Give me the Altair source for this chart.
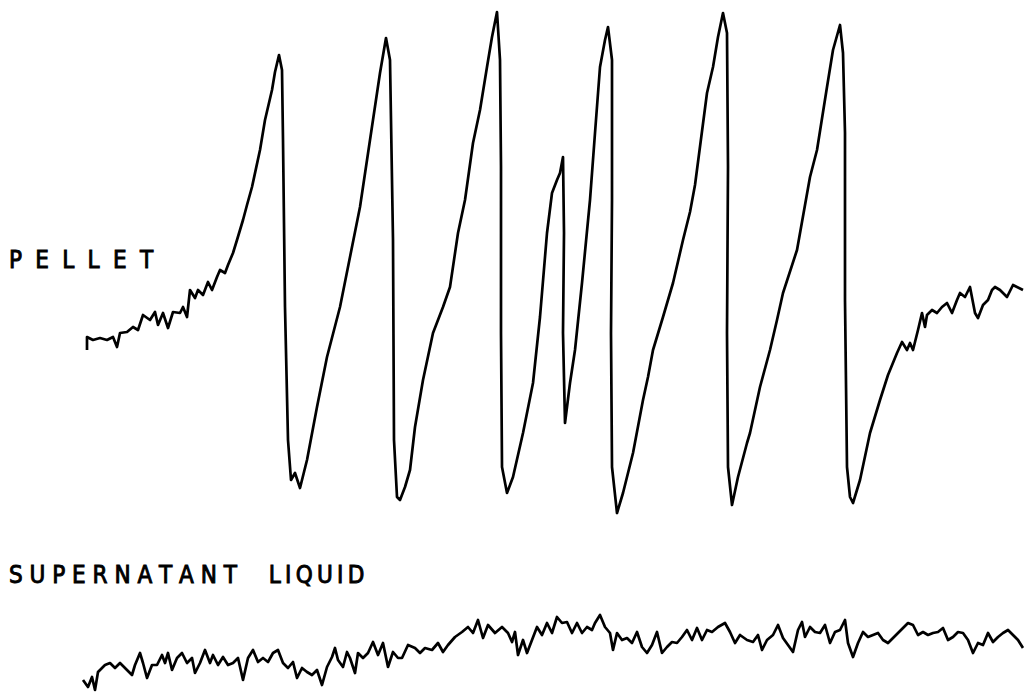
import altair as alt
import pandas as pd

# Pellet trace (horizontal position, vertical position measured downward)
pellet_x = [87, 87, 93, 100, 107, 113, 117, 120, 127, 133, 138, 143, 150, 155, 158, 163, 168, 173, 180, 183,
            187, 190, 195, 198, 203, 208, 212, 217, 220, 225, 228, 233, 237, 243, 247, 252, 260, 265, 272, 275,
            279, 282, 283, 285, 288, 291, 295, 300, 307, 317, 327, 340, 350, 360, 370, 380, 386, 390, 393, 394,
            397, 400, 405, 410, 415, 423, 433, 443, 450, 458, 465, 473, 480, 487, 492, 497, 500, 501, 501, 502,
            507, 513, 523, 533, 540, 547, 552, 557, 560, 563, 564, 563, 565, 570, 575, 582, 590, 595, 600, 605,
            608, 612, 612, 611, 612, 617, 623, 633, 643, 648, 653, 663, 673, 683, 690, 695, 707, 713, 718, 723,
            727, 728, 727, 728, 732, 738, 747, 750, 760, 770, 777, 783, 797, 810, 817, 827, 833, 840, 843, 845,
            845, 847, 850, 853, 860, 870, 880, 888, 897, 902, 907, 910, 913, 918, 922, 925, 927, 932, 937, 942,
            947, 952, 957, 960, 965, 970, 975, 978, 983, 988, 992, 995, 1000, 1007, 1013, 1023]
pellet_y = [350, 337, 340, 338, 340, 337, 347, 333, 332, 327, 330, 315, 320, 312, 325, 313, 328, 312, 313, 307,
            317, 290, 298, 290, 295, 282, 290, 277, 270, 273, 265, 253, 240, 220, 205, 187, 150, 120, 90, 72,
            55, 70, 140, 307, 440, 480, 473, 488, 460, 407, 357, 307, 257, 207, 140, 73, 38, 60, 240, 440,
            497, 500, 487, 470, 427, 380, 333, 307, 287, 233, 200, 143, 110, 67, 37, 12, 60, 167, 333, 467,
            493, 477, 433, 383, 317, 233, 193, 180, 173, 157, 233, 333, 423, 383, 350, 283, 200, 133, 67, 40,
            27, 60, 200, 333, 467, 513, 493, 453, 400, 377, 350, 317, 283, 240, 212, 185, 93, 67, 37, 13,
            33, 167, 333, 467, 505, 477, 443, 433, 387, 350, 320, 293, 250, 177, 150, 87, 50, 25, 53, 133,
            300, 467, 497, 503, 480, 433, 400, 375, 353, 342, 350, 343, 350, 330, 313, 327, 315, 310, 313, 307,
            303, 313, 300, 293, 297, 287, 313, 318, 305, 300, 290, 287, 290, 297, 285, 290]

# Supernatant liquid trace
super_x = [83, 88, 92, 95, 98, 105, 110, 115, 120, 127, 132, 135, 140, 143, 147, 152, 157, 162, 165, 168,
           172, 177, 182, 187, 192, 195, 200, 205, 210, 213, 218, 223, 228, 233, 238, 243, 248, 253, 258, 263,
           268, 273, 278, 283, 288, 293, 297, 302, 307, 312, 317, 322, 327, 332, 335, 338, 343, 347, 350, 355,
           358, 363, 368, 373, 378, 383, 388, 393, 398, 402, 408, 415, 420, 425, 432, 438, 443, 448, 455, 462,
           468, 473, 478, 483, 488, 495, 502, 508, 512, 515, 518, 523, 527, 532, 537, 542, 547, 552, 557, 562,
           567, 572, 577, 582, 587, 592, 595, 600, 605, 610, 613, 617, 622, 627, 632, 637, 642, 647, 652, 657,
           662, 667, 672, 677, 682, 687, 692, 697, 702, 707, 712, 718, 725, 730, 735, 740, 747, 753, 758, 762,
           767, 773, 778, 783, 788, 793, 798, 802, 805, 810, 815, 820, 825, 830, 835, 840, 845, 848, 853, 858,
           863, 868, 873, 878, 883, 888, 893, 898, 903, 908, 913, 918, 923, 928, 933, 938, 943, 948, 953, 958,
           963, 968, 973, 978, 983, 988, 993, 998, 1003, 1008, 1013, 1018, 1023]
super_y = [680, 687, 677, 690, 672, 665, 663, 668, 663, 670, 675, 665, 653, 663, 678, 665, 665, 655, 663, 653,
           670, 658, 653, 663, 658, 673, 663, 650, 663, 655, 665, 657, 665, 663, 658, 680, 658, 650, 662, 658,
           662, 653, 650, 663, 668, 662, 678, 668, 672, 675, 670, 685, 667, 657, 648, 660, 667, 652, 658, 673,
           653, 658, 653, 642, 655, 643, 667, 652, 658, 658, 645, 648, 653, 648, 650, 643, 652, 645, 637, 632,
           627, 633, 620, 638, 625, 633, 627, 633, 642, 632, 655, 640, 653, 640, 627, 635, 623, 633, 617, 623,
           622, 633, 623, 633, 627, 630, 623, 615, 627, 633, 650, 633, 640, 638, 643, 632, 647, 653, 645, 632,
           653, 647, 642, 643, 637, 630, 640, 628, 640, 630, 632, 627, 623, 632, 643, 635, 640, 642, 635, 650,
           640, 635, 625, 638, 645, 652, 630, 622, 637, 627, 632, 633, 625, 643, 632, 630, 620, 643, 657, 643,
           632, 637, 635, 633, 640, 643, 638, 633, 628, 623, 625, 635, 632, 635, 633, 632, 628, 640, 637, 632,
           633, 640, 653, 643, 645, 633, 642, 637, 633, 630, 635, 640, 648]

NB = "\u00a0"   # non-breaking space
TH = "\u2009"   # thin space
HS = "\u200a"   # hair space
labels = [(NB + TH + HS).join("PELLET"),
          NB.join("SUPERNATANT") + NB * 4 + TH + TH.join("LIQUID")]
label_x = [9, 9]
label_y = [261, 576]

pellet = pd.DataFrame({"x": pellet_x, "y": pellet_y, "i": range(len(pellet_x)), "trace": "pellet"})
sup = pd.DataFrame({"x": super_x, "y": super_y, "i": range(len(super_x)), "trace": "supernatant"})
traces = pd.concat([pellet, sup], ignore_index=True)
lab = pd.DataFrame({"text": labels, "x": label_x, "y": label_y})

xs = alt.Scale(domain=[0, 1024], range=[0, 1024], nice=False, zero=False)
ys = alt.Scale(domain=[0, 694], range=[0, 694], nice=False, zero=False)

lines = alt.Chart(traces).mark_line(color="black", strokeWidth=2.7, strokeJoin="round").encode(
    x=alt.X("x:Q", scale=xs, axis=None),
    y=alt.Y("y:Q", scale=ys, axis=None),
    detail="trace:N",
    order="i:Q",
)

text = alt.Chart(lab).mark_text(
    align="left", baseline="middle", font="DejaVu Sans Condensed, DejaVu Sans", fontSize=24,
    fontWeight="normal", color="black", stroke="black", strokeWidth=0.9
).encode(
    x=alt.X("x:Q", scale=xs, axis=None),
    y=alt.Y("y:Q", scale=ys, axis=None),
    text="text:N",
)

chart = alt.layer(lines, text).properties(
    width=1024, height=694, padding=0, autosize=alt.AutoSizeParams(type="none"), background="white"
).configure_view(stroke=None)

chart.save("out.html", embed_options={"renderer": "svg", "actions": False})
